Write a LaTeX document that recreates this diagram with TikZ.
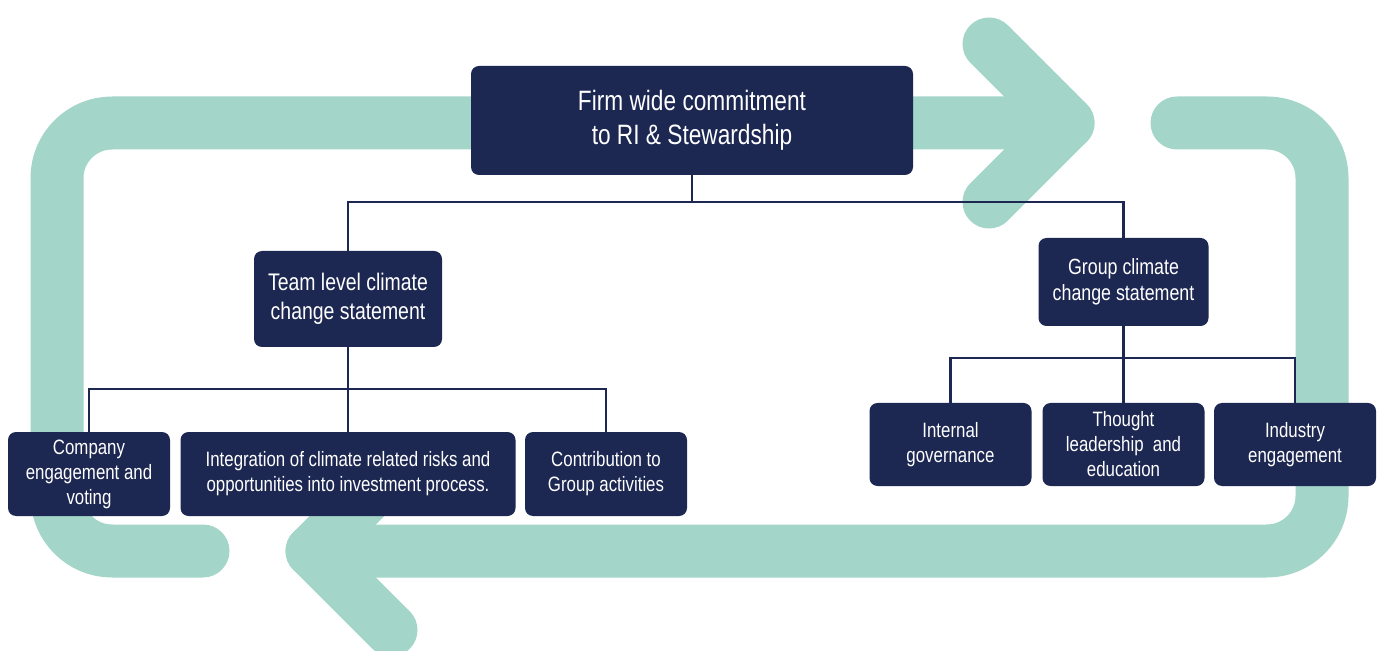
\documentclass[tikz,border=0pt]{standalone}
\usepackage{fontspec}
\setmainfont{Liberation Sans}[FakeStretch=0.81]
\usepackage{tikz}
\usetikzlibrary{calc}
\definecolor{navy}{HTML}{1C2752}
\definecolor{mint}{HTML}{A3D5C8}
\tikzset{
  band/.style={mint, line width=26.5pt, line cap=round, line join=round},
  box/.style={fill=navy, text=white, rounded corners=4pt, align=center, inner sep=0pt},
  leaf/.style={box, minimum width=81pt, minimum height=42pt, font=\fsz{10.4pt}{12.5pt}},
  link/.style={navy, line width=1.1pt},
}
\newcommand\fsz[2]{\fontsize{#1}{#2}\selectfont}

\begin{document}
\begin{tikzpicture}[x=0.5pt,y=-0.5pt]

\useasboundingbox (0,0) rectangle (1384,651);

% loop arrows
\draw[band, rounded corners=27.5pt] (203,551) -- (57,551) -- (57,123) -- (1068,123);
\draw[band] (989,44) -- (1068,123) -- (989,202);
\draw[band, rounded corners=27.5pt] (1177,123) -- (1322,123) -- (1322,551) -- (312,551);
\draw[band] (391,472) -- (312,551) -- (391,630);

% boxes
\node[box, minimum width=221pt, minimum height=54.5pt, font=\fsz{14pt}{16.8pt}] (firm) at (692,120.5)
  {Firm wide commitment\\to RI \& Stewardship};
\node[box, minimum width=94pt, minimum height=48pt, font=\fsz{12pt}{14.5pt}] (team) at (348,299)
  {Team level climate\\change statement};
\node[box, minimum width=85pt, minimum height=44pt, font=\fsz{11pt}{13.3pt}] (group) at (1123.5,282)
  {Group climate\\change statement};

\node[leaf] (company) at (89,474) {Company\\engagement and\\voting};
\node[leaf, minimum width=167.5pt] (integ) at (348,474)
  {Integration of climate related risks and\\opportunities into investment process.};
\node[leaf] (contrib) at (606,474) {Contribution to\\Group activities};

\node[leaf, minimum height=41.5pt] (internal) at (950.5,444.5) {Internal\\governance};
\node[leaf, minimum height=41.5pt] (thought) at (1123.5,444.5) {Thought\\leadership~ and\\education};
\node[leaf, minimum height=41.5pt] (industry) at (1295,444.5) {Industry\\engagement};

% connectors
\coordinate (j1) at (692,202);
\coordinate (j2) at (348,389);
\coordinate (j3) at (1123.5,358);

\draw[link] (firm.south) -- (j1);
\draw[link] (j1) -| (team.north);
\draw[link] (j1) -| (group.north);

\draw[link] (team.south) -- (j2);
\draw[link] (j2) -| (company.north);
\draw[link] (j2) -| (integ.north);
\draw[link] (j2) -| (contrib.north);

\draw[link] (group.south) -- (j3);
\draw[link] (j3) -| (internal.north);
\draw[link] (j3) -| (thought.north);
\draw[link] (j3) -| (industry.north);

\end{tikzpicture}
\end{document}
